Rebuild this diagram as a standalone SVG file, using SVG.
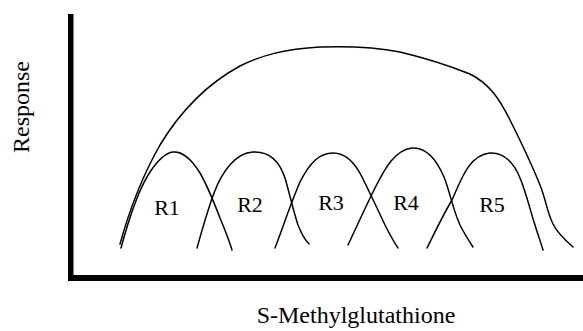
<svg xmlns="http://www.w3.org/2000/svg" width="583" height="331" viewBox="0 0 583 331">
<style>
.c{fill:none;stroke:#000;stroke-width:1.5;stroke-linecap:round;stroke-linejoin:round}
.t{font-family:"Liberation Serif","Times New Roman",serif;fill:#000}
.ax{font-size:24px}
.r{font-size:22px;text-anchor:middle}
</style>
<rect width="583" height="331" fill="#fff"/>
<g id="axes">
<rect x="68" y="14" width="5.5" height="267" fill="#000"/>
<rect x="68" y="275" width="515" height="6" fill="#000"/>
</g>
<g id="axis-labels">
<text class="t ax" text-anchor="middle" transform="translate(29,107) rotate(-90)">Response</text>
<text class="t ax" x="356" y="323" text-anchor="middle">S-Methylglutathione</text>
</g>
<g id="envelope">
<path class="c" d="M120,244 C128,215 140,180 160,145 C180,112 205,85 240,66 C262,55 285,49 320,47 C350,46 375,47 400,52 C425,58 450,66 470,74 C490,84 500,100 510,120 C520,140 532,165 540,185 C546,200 547,212 553,224 C558,234 566,241 573,247"/>
</g>
<g id="R1">
<path class="c" d="M121,248 C128,222 138,190 150,172 C158,160 165,153 173,152 C182,151 192,160 200,173 C207,185 215,205 220,218 C225,230 229,240 232,250"/>
<text class="t r" x="167" y="215">R1</text>
</g>
<g id="R2">
<path class="c" d="M197,248 C202,230 207,212 214,193 C222,172 235,153 253,152 C270,151 280,163 285,178 C290,195 293,210 298,225 C302,235 305,240 309,244"/>
<text class="t r" x="250" y="212">R2</text>
</g>
<g id="R3">
<path class="c" d="M275,248 C282,230 290,205 300,182 C310,162 320,153 333,153 C345,153 355,163 362,177 C370,193 378,210 385,225 C390,235 394,242 398,248"/>
<text class="t r" x="331" y="210">R3</text>
</g>
<g id="R4">
<path class="c" d="M348,245 C356,228 365,208 375,188 C385,168 395,150 412,148 C428,147 438,163 444,177 C450,192 453,210 460,225 C465,235 469,241 473,247"/>
<text class="t r" x="406" y="210">R4</text>
</g>
<g id="R5">
<path class="c" d="M427,248 C435,232 443,215 452,200 C460,183 468,155 490,153 C505,152 515,165 520,178 C526,192 530,210 535,225 C538,235 541,243 543,250"/>
<text class="t r" x="492" y="212">R5</text>
</g>
</svg>
